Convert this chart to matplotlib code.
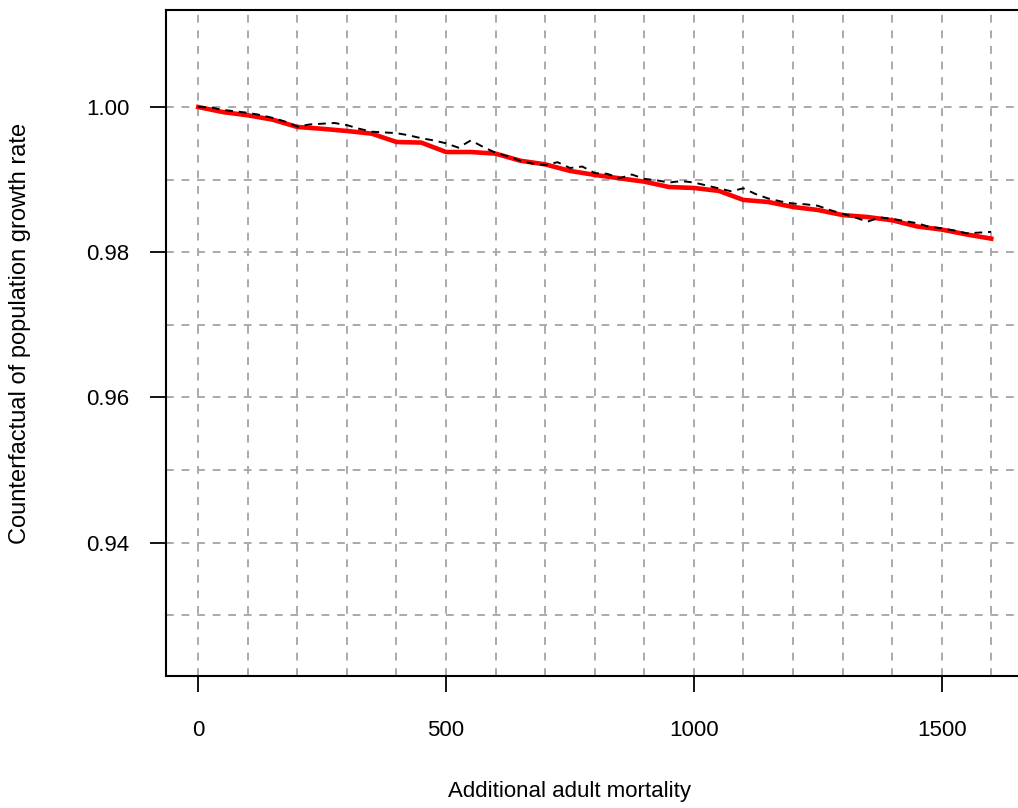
import numpy as np
import matplotlib
matplotlib.use("Agg")
import matplotlib.pyplot as plt

plt.rcParams["font.family"] = ["Liberation Sans", "DejaVu Sans"]

# red line: every 50 units of additional mortality
mort_red = np.arange(0, 1601, 50)
lam_red = [1.0000, 0.9993, 0.99886, 0.99826, 0.99725, 0.99700, 0.99670, 0.99633,
           0.99518, 0.99510, 0.99380, 0.99380, 0.99358, 0.99260, 0.99210, 0.99120,
           0.99065, 0.99018, 0.98972, 0.98898, 0.98885, 0.98845, 0.98720, 0.98692,
           0.98623, 0.98582, 0.98512, 0.98485, 0.98440, 0.98355, 0.98312, 0.98245,
           0.98187]

# black dashed line: every 25 units
mort_dash = np.arange(0, 1601, 25)
lam_dash = [1.0000, 0.99995, 0.9996, 0.9994, 0.9992, 0.9989, 0.9985, 0.9980,
            0.9973, 0.9976, 0.9977, 0.9978, 0.9975, 0.9970, 0.9966, 0.9965,
            0.9964, 0.9961, 0.9957, 0.9954, 0.9950, 0.9944, 0.9954, 0.9945,
            0.9937, 0.9932, 0.9926, 0.9922, 0.9920, 0.9924, 0.9916, 0.9918,
            0.9909, 0.9908, 0.9902, 0.9907, 0.9901, 0.9899, 0.9896, 0.9898,
            0.9896, 0.9892, 0.9888, 0.9884, 0.9888, 0.9880, 0.9874, 0.9870,
            0.9867, 0.9866, 0.9864, 0.9858, 0.9853, 0.9848, 0.9842, 0.9848,
            0.9846, 0.9843, 0.9840, 0.9835, 0.9833, 0.9830, 0.9826, 0.9827,
            0.9828]

x_ticks = [0, 500, 1000, 1500]
y_ticks = [0.94, 0.96, 0.98, 1.00]
x_grid = np.arange(0, 1601, 100)
y_grid = np.arange(0.93, 1.0001, 0.01)

fig = plt.figure(figsize=(10.18, 8.08), dpi=100)
ax = fig.add_axes([0.1631, 0.1634, 0.8369, 0.8242])

for gx in x_grid:
    ax.axvline(gx, color="#aaaaaa", lw=1.4, ls=(0, (4, 4)), zorder=1)
for gy in y_grid:
    ax.axhline(gy, color="#aaaaaa", lw=1.4, ls=(0, (4, 4)), zorder=1)

ax.plot(mort_red, lam_red, color="#ff0000", lw=3.3, zorder=3,
        solid_joinstyle="round")
ax.plot(mort_dash, lam_dash, color="black", lw=1.4, ls=(0, (4, 3)), zorder=4)

ax.set_xlim(-65, 1654)
ax.set_ylim(0.92163, 1.01336)

ax.set_xticks(x_ticks)
ax.set_xticklabels([str(v) for v in x_ticks])
ax.set_yticks(y_ticks)
ax.set_yticklabels(["%.2f" % v for v in y_ticks])
ax.tick_params(axis="x", length=11.5, width=1.3, pad=20, labelsize=16)
ax.tick_params(axis="y", length=11.5, width=1.3, pad=15, labelsize=16)

for side in ["left", "top", "bottom"]:
    ax.spines[side].set_linewidth(1.5)
ax.spines["right"].set_visible(False)

fig.text(0.5597, 1 - 791 / 808, "Additional adult mortality", ha="center",
         va="center", fontsize=16)
fig.text(20 / 1018, 1 - 333 / 808, "Counterfactual of population growth rate",
         ha="center", va="center", rotation=90, fontsize=17)

fig.savefig("out.png", dpi=100)
